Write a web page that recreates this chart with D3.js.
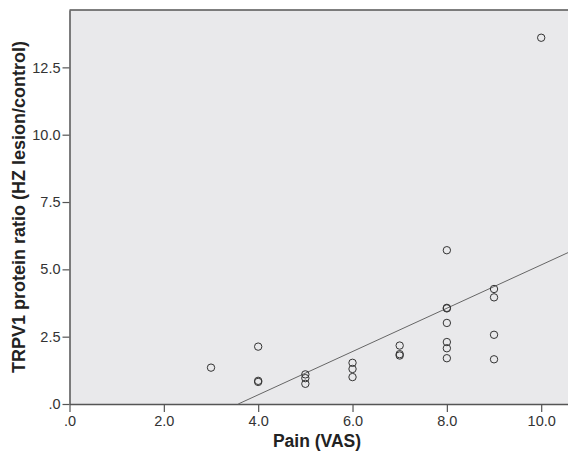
<!DOCTYPE html>
<html>
<head>
<meta charset="utf-8">
<script src="https://cdn.jsdelivr.net/npm/d3@7"></script>
<style>
  body { margin: 0; background: #ffffff; }
  #scatter { width: 568px; height: 451px; overflow: hidden; }
</style>
</head>
<body>
<div id="scatter"></div>
<script>
// data: pain score (VAS) and TRPV1 ratio
var painVAS = [3, 4, 4, 4, 5, 5, 5, 6, 6, 6, 7, 7, 7,
               8, 8, 8, 8, 8, 8, 8, 9, 9, 9, 9, 10];
var trpv1Ratio = [1.35, 2.13, 0.86, 0.82, 1.10, 0.96, 0.75, 1.53, 1.30, 1.00, 2.17, 1.85, 1.80,
                  5.71, 3.57, 3.55, 3.01, 2.30, 2.07, 1.70, 4.27, 3.96, 2.57, 1.66, 13.6];
var xTicks = [0, 2, 4, 6, 8, 10];
var xTickLabels = [".0", "2.0", "4.0", "6.0", "8.0", "10.0"];
var yTicks = [0, 2.5, 5, 7.5, 10, 12.5];
var yTickLabels = [".0", "2.5", "5.0", "7.5", "10.0", "12.5"];

var svgWidth = 568;
var svgHeight = 451;
var margin = { top: 10, left: 69.5 };
var width = 500;
var height = 394;

var svg = d3.select("#scatter")
    .append("svg")
    .attr("width", svgWidth)
    .attr("height", svgHeight)
    .style("font-family", "'Liberation Sans', Arial, sans-serif");

var chartGroup = svg.append("g")
    .attr("transform", `translate(${margin.left}, ${margin.top})`);

// scales
var xscale = d3.scaleLinear().domain([0, 10.6]).range([0, width]);
var yscale = d3.scaleLinear().domain([0, 14.63]).range([height, 0]);

// plot background
chartGroup.append("rect")
    .attr("x", 0)
    .attr("y", 0)
    .attr("width", width)
    .attr("height", height)
    .attr("fill", "#e9e9eb");

// top frame line
chartGroup.append("line")
    .attr("x1", 0).attr("x2", width)
    .attr("y1", 0).attr("y2", 0)
    .attr("stroke", "#555")
    .attr("stroke-width", 1.5);

// axes
var bottomAxis = d3.axisBottom(xscale)
    .tickValues(xTicks)
    .tickFormat((d, i) => xTickLabels[i])
    .tickSize(8)
    .tickSizeOuter(0)
    .tickPadding(4);
var leftAxis = d3.axisLeft(yscale)
    .tickValues(yTicks)
    .tickFormat((d, i) => yTickLabels[i])
    .tickSize(7)
    .tickSizeOuter(0)
    .tickPadding(2);

var xAxisG = chartGroup.append("g")
    .attr("transform", `translate(0, ${height})`)
    .call(bottomAxis);
var yAxisG = chartGroup.append("g").call(leftAxis);

[xAxisG, yAxisG].forEach(function(g) {
    g.select(".domain").attr("stroke", "#555").attr("stroke-width", 1.5);
    g.selectAll(".tick line").attr("stroke", "#555").attr("stroke-width", 1.2);
    g.selectAll(".tick text")
        .attr("fill", "#333")
        .style("font-size", "14.5px")
        .style("font-family", "'Liberation Sans', Arial, sans-serif");
});

// least squares fit line
var mx = d3.mean(painVAS);
var my = d3.mean(trpv1Ratio);
var sxy = d3.sum(painVAS, (x, i) => (x - mx) * (trpv1Ratio[i] - my));
var sxx = d3.sum(painVAS, x => (x - mx) * (x - mx));
var slope = sxy / sxx;
var intercept = my - slope * mx;
var xStart = -intercept / slope;
var xEnd = 10.6;

chartGroup.append("line")
    .attr("x1", xscale(xStart))
    .attr("y1", yscale(0))
    .attr("x2", xscale(xEnd))
    .attr("y2", yscale(intercept + slope * xEnd))
    .attr("stroke", "#666")
    .attr("stroke-width", 1);

// points
chartGroup.selectAll("circle")
    .data(painVAS)
    .enter()
    .append("circle")
    .attr("cx", d => xscale(d))
    .attr("cy", (d, i) => yscale(trpv1Ratio[i]))
    .attr("r", 3.7)
    .attr("fill", "none")
    .attr("stroke", "#333")
    .attr("stroke-width", 1);

// axis labels
svg.append("text")
    .attr("x", 317)
    .attr("y", 446.5)
    .attr("text-anchor", "middle")
    .attr("font-weight", "bold")
    .attr("font-size", "17.5px")
    .attr("fill", "#222")
    .text("Pain (VAS)");

svg.append("text")
    .attr("transform", "translate(24.5, 207) rotate(-90)")
    .attr("text-anchor", "middle")
    .attr("font-weight", "bold")
    .attr("font-size", "18px")
    .attr("fill", "#222")
    .text("TRPV1 protein ratio (HZ lesion/control)");
</script>
</body>
</html>
